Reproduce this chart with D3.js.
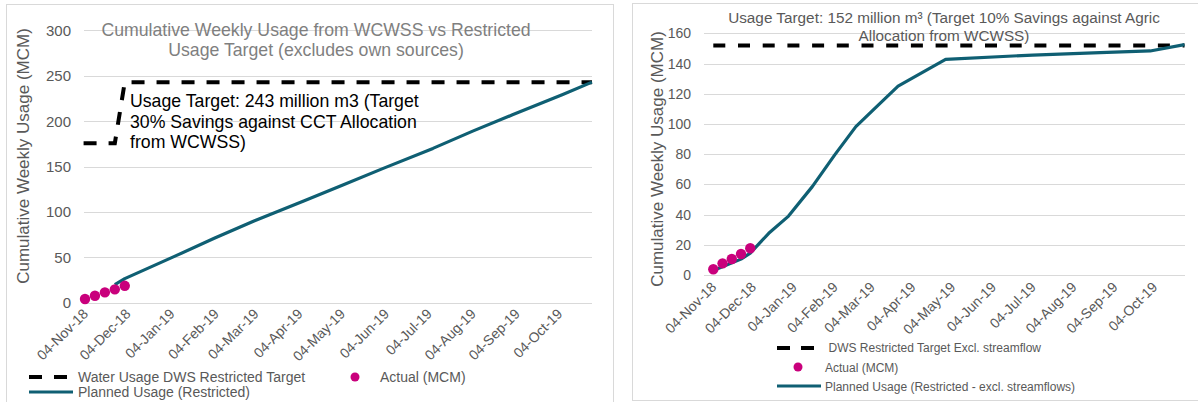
<!DOCTYPE html>
<html><head><meta charset="utf-8">
<script src="https://cdn.jsdelivr.net/npm/d3@7"></script>
<style>
html,body{margin:0;padding:0;background:#fff;}
svg{display:block;font-family:"Liberation Sans",Arial,sans-serif;}
</style></head>
<body>
<svg id="c" width="1198" height="402"></svg>
<script>
// ---------- DATA ----------
const tickLabels = ["04-Nov-18","04-Dec-18","04-Jan-19","04-Feb-19","04-Mar-19","04-Apr-19","04-May-19","04-Jun-19","04-Jul-19","04-Aug-19","04-Sep-19","04-Oct-19"];
const dateDomain = ["2018-11-04","2019-10-27"];

// Left chart (WCWSS urban)
const leftYTicks = [0,50,100,150,200,250,300];
const leftActualDates = ["2018-11-04","2018-11-11","2018-11-18","2018-11-25","2018-12-02"];
const leftActualValues = [4.1,7.7,11.4,14.7,18.6];
const leftPlannedDates = ["2018-11-25","2018-12-02","2019-01-06","2019-02-03","2019-03-03","2019-04-07","2019-05-05","2019-06-02","2019-07-07","2019-08-04","2019-09-01","2019-10-06","2019-10-27"];
const leftPlannedValues = [20,26.5,51,71,90,112,130,148,170,189,207,229,243];
const leftTargetDates = ["2018-11-03","2018-11-25","2018-12-02","2019-10-27"];
const leftTargetValues = [175.6,175.6,243,243];
const leftTitle = ["Cumulative Weekly Usage from WCWSS vs Restricted","Usage Target (excludes own sources)"];
const leftNote = ["Usage Target: 243 million m3 (Target","30% Savings against CCT Allocation","from WCWSS)"];
const leftLegend = ["Water Usage DWS Restricted Target","Actual (MCM)","Planned Usage (Restricted)"];

// Right chart (Agric)
const rightYTicks = [0,20,40,60,80,100,120,140,160];
const rightActualDates = ["2018-11-04","2018-11-11","2018-11-18","2018-11-25","2018-12-02"];
const rightActualValues = [3.8,7.7,10.6,13.9,17.7];
const rightPlannedDates = ["2018-11-04","2018-11-25","2018-12-02","2018-12-16","2018-12-31","2019-01-18","2019-02-04","2019-02-20","2019-03-05","2019-03-24","2019-04-29","2019-07-04","2019-08-24","2019-10-01","2019-10-27"];
const rightPlannedValues = [3,10.5,14.5,27.6,39,58.5,79.5,98.2,109.2,125,142.8,145.6,147.2,148.3,152.5];
const rightTargetDates = ["2018-11-04","2019-10-27"];
const rightTargetValues = [152,152];
const rightTitle = ["Usage Target: 152 million m\u00b3 (Target 10% Savings against Agric","Allocation from WCWSS)"];
const rightLegend = ["DWS Restricted Target Excl. streamflow","Actual (MCM)","Planned Usage (Restricted - excl. streamflows)"];

const yTitle = "Cumulative Weekly Usage (MCM)";

// ---------- DRAW ----------
const P = d3.timeParse("%Y-%m-%d");
const PT = d3.timeParse("%d-%b-%y");
const svg = d3.select("#c");
const TEAL = "#0f5f73", MAG = "#c9007c", GRID = "#d9d9d9", TXT = "#595959";

function zip(ds, vs){ return ds.map((d,i)=>({d:P(d), v:vs[i]})); }

function chart(o){
  const g = svg.append("g");
  g.append("rect").attr("x",o.box[0]+0.5).attr("y",o.box[1]+0.5).attr("width",o.box[2]).attr("height",o.box[3])
    .attr("fill","none").attr("stroke","#d9d9d9").attr("stroke-width",1);
  const x = d3.scaleTime().domain(dateDomain.map(P)).range(o.xr);
  const y = d3.scaleLinear().domain([0,o.yt[o.yt.length-1]]).range(o.yr);
  g.append("g").selectAll("line").data(o.yt).join("line")
    .attr("x1",o.gx[0]).attr("x2",o.gx[1])
    .attr("y1",d=>Math.round(y(d))+0.5).attr("y2",d=>Math.round(y(d))+0.5)
    .attr("stroke",GRID).attr("stroke-width",1);
  g.append("g").selectAll("text").data(o.yt).join("text")
    .attr("x",o.ylx).attr("y",d=>y(d)).attr("dy","0.36em").attr("text-anchor","end")
    .attr("font-size",o.yfs).attr("fill",TXT).text(d=>d);
  g.append("g").selectAll("text").data(tickLabels).join("text")
    .attr("transform",d=>`translate(${x(PT(d))+o.xlo[0]},${o.yr[0]+o.xlo[1]}) rotate(-45)`)
    .attr("text-anchor","end").attr("font-size",o.xfs).attr("fill",TXT).text(d=>d);
  g.append("text").attr("transform",`translate(${o.ytx},${o.yty}) rotate(-90)`)
    .attr("text-anchor","middle").attr("font-size",17).attr("fill",TXT).text(yTitle);
  g.append("g").selectAll("text").data(o.title).join("text")
    .attr("x",o.tx).attr("y",(d,i)=>o.ty+i*o.tlh).attr("text-anchor","middle")
    .attr("font-size",o.tfs).attr("fill",o.tcol).text(d=>d);
  const line = d3.line().x(d=>x(d.d)).y(d=>y(d.v));
  g.append("path").datum(zip(o.tDates,o.tVals)).attr("d",line)
    .attr("fill","none").attr("stroke","#000").attr("stroke-width",4).attr("stroke-dasharray",o.dash);
  g.append("path").datum(zip(o.pDates,o.pVals)).attr("d",line.curve(o.curve))
    .attr("fill","none").attr("stroke",TEAL).attr("stroke-width",3.2).attr("stroke-linejoin","round");
  g.append("g").selectAll("circle").data(zip(o.aDates,o.aVals)).join("circle")
    .attr("cx",d=>x(d.d)).attr("cy",d=>y(d.v)).attr("r",5.2).attr("fill",MAG);
  return g;
}

const gl = chart({
  box:[6,4,607,430], xr:[85,592], yr:[302.7,30.4], gx:[84,592], yt:leftYTicks,
  ylx:71, yfs:15, xfs:14, xlo:[4,12], ytx:29, yty:156,
  title:leftTitle, tx:316, ty:36, tlh:20, tfs:17.7, tcol:"#7f7f7f",
  tDates:leftTargetDates, tVals:leftTargetValues, dash:"13,12",
  pDates:leftPlannedDates, pVals:leftPlannedValues, curve:d3.curveLinear,
  aDates:leftActualDates, aVals:leftActualValues
});
gl.append("g").selectAll("text").data(leftNote).join("text")
  .attr("x",130).attr("y",(d,i)=>107+i*20.5).attr("font-size",17.7).attr("fill","#000").text(d=>d);
{
  const lg = gl.append("g").attr("font-size",14).attr("fill",TXT);
  lg.append("line").attr("x1",29).attr("x2",67).attr("y1",377).attr("y2",377).attr("stroke","#000").attr("stroke-width",4).attr("stroke-dasharray","13,12");
  lg.append("text").attr("x",78).attr("y",382).text(leftLegend[0]);
  lg.append("circle").attr("cx",355).attr("cy",377).attr("r",4.5).attr("fill",MAG);
  lg.append("text").attr("x",380).attr("y",382).text(leftLegend[1]);
  lg.append("line").attr("x1",29).attr("x2",73).attr("y1",392).attr("y2",392).attr("stroke",TEAL).attr("stroke-width",3.2);
  lg.append("text").attr("x",78).attr("y",397).text(leftLegend[2]);
}

const gr = chart({
  box:[632,3,600,397], xr:[713.3,1184.5], yr:[275,33.3], gx:[704,1185], yt:rightYTicks,
  ylx:691, yfs:14, xfs:14, xlo:[4,13], ytx:663, yty:159,
  title:rightTitle, tx:944, ty:23, tlh:17.5, tfs:15.3, tcol:TXT,
  tDates:rightTargetDates, tVals:rightTargetValues, dash:"12,12.7",
  pDates:rightPlannedDates, pVals:rightPlannedValues, curve:d3.curveLinear,
  aDates:rightActualDates, aVals:rightActualValues
});
{
  const lg = gr.append("g").attr("font-size",12).attr("fill",TXT);
  lg.append("line").attr("x1",777).attr("x2",814).attr("y1",348).attr("y2",348).attr("stroke","#000").attr("stroke-width",4).attr("stroke-dasharray","13,11");
  lg.append("text").attr("x",828.5).attr("y",352).text(rightLegend[0]);
  lg.append("circle").attr("cx",798).attr("cy",367).attr("r",4.5).attr("fill",MAG);
  lg.append("text").attr("x",825).attr("y",371.5).text(rightLegend[1]);
  lg.append("line").attr("x1",777).attr("x2",821).attr("y1",386).attr("y2",386).attr("stroke",TEAL).attr("stroke-width",3.2);
  lg.append("text").attr("x",825).attr("y",390.5).text(rightLegend[2]);
}
</script>
</body></html>
